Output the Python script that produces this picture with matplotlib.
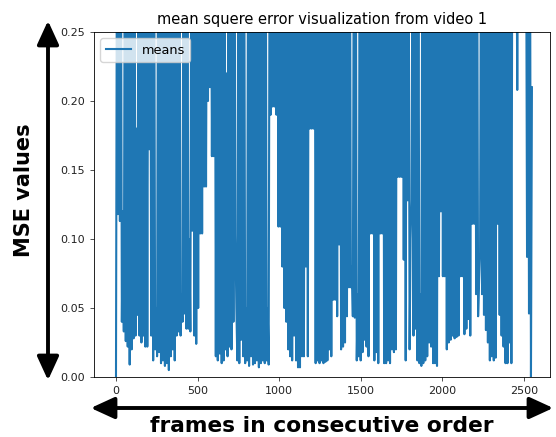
import numpy as np
import matplotlib
matplotlib.use("Agg")
import matplotlib.pyplot as plt
from matplotlib.patches import FancyArrowPatch

# local minima of the MSE curve, one every 12 frames
troughs_a = [0.000, 0.118, 0.113, 0.040, 0.033, 0.026, 0.022, 0.009, 0.020, 0.028,
             0.030, 0.045, 0.030, 0.025, 0.030, 0.022, 0.022, 0.165, 0.030, 0.012,
             0.020, 0.015, 0.018, 0.010, 0.012, 0.008, 0.010, 0.005, 0.015, 0.020,
             0.012, 0.030, 0.033, 0.030, 0.040, 0.046, 0.035, 0.035, 0.033, 0.106,
             0.030, 0.024, 0.050]
troughs_b = [0.104, 0.104, 0.138, 0.138, 0.200, 0.210, 0.160, 0.160, 0.015, 0.012,
             0.017, 0.010, 0.012, 0.020, 0.015, 0.022, 0.020, 0.040, 0.103, 0.012,
             0.010, 0.027, 0.015, 0.010, 0.012, 0.008, 0.015, 0.009, 0.010, 0.012,
             0.007, 0.010, 0.012, 0.010, 0.012, 0.009, 0.190, 0.196, 0.196, 0.190,
             0.109, 0.109, 0.080]
troughs_c = [0.050, 0.040, 0.020, 0.015, 0.012, 0.030, 0.012, 0.007, 0.007, 0.015,
             0.015, 0.080, 0.015, 0.180, 0.180, 0.180, 0.010, 0.012, 0.010, 0.012,
             0.010, 0.011, 0.012, 0.020, 0.015, 0.056, 0.056, 0.044, 0.096, 0.020,
             0.022, 0.025, 0.044, 0.065, 0.065, 0.044, 0.043, 0.012, 0.015, 0.012,
             0.018, 0.027, 0.022]
troughs_d = [0.015, 0.104, 0.104, 0.012, 0.018, 0.010, 0.104, 0.104, 0.010, 0.010,
             0.012, 0.010, 0.020, 0.018, 0.020, 0.145, 0.145, 0.145, 0.085, 0.012,
             0.128, 0.020, 0.128, 0.030, 0.035, 0.012, 0.010, 0.008, 0.010, 0.012,
             0.015, 0.025, 0.022, 0.010, 0.010, 0.008, 0.073, 0.120, 0.073, 0.073,
             0.020, 0.025, 0.027]
troughs_e = [0.030, 0.028, 0.029, 0.030, 0.073, 0.073, 0.031, 0.035, 0.042, 0.030,
             0.111, 0.111, 0.060, 0.044, 0.090, 0.060, 0.045, 0.034, 0.025, 0.012,
             0.015, 0.012, 0.014, 0.111, 0.045, 0.030, 0.022, 0.010, 0.010, 0.025,
             0.010, 0.300, 0.300, 0.208, 0.300, 0.300, 0.300, 0.300, 0.087, 0.046,
             0.000]
peak_value = 0.35   # between dips the curve leaves the visible range
# the few peaks that stay inside the plot (thin white lines from the top)
low_peaks = {3: 0.12, 10: 0.18, 20: 0.05, 33: 0.06, 37: 0.10, 56: 0.22, 61: 0.05,
             66: 0.05, 77: 0.05, 120: 0.08, 123: 0.06, 150: 0.10, 155: 0.06, 185: 0.07}
last_value = 0.21
frame_step = 6

troughs = np.array(troughs_a + troughs_b + troughs_c + troughs_d + troughs_e)
peaks = np.full(len(troughs), peak_value)
for k, v in low_peaks.items():
    peaks[k] = v
peaks[-1] = last_value
means = np.empty(2 * len(troughs))
means[0::2] = troughs
means[1::2] = peaks
frames = np.arange(len(means)) * frame_step

fig = plt.figure(figsize=(5.56, 4.37), dpi=100)
ax = fig.add_axes([0.169, 0.1373, 0.820, 0.7895])
ax.plot(frames, means, color="#1f77b4", lw=1.5, label="means")
ax.set_ylim(0, 0.25)
ax.set_xlim(-135, 2660)
ax.set_title("mean squere error visualization from video 1", fontsize=10.5, pad=6)
ax.tick_params(labelsize=8, length=2.8, width=0.6, colors="#333333", labelcolor="#222222")
for s in ax.spines.values():
    s.set_linewidth(0.6)
ax.legend(loc="upper left", fontsize=9.3)

# big arrows round the axes
def px(x, y):
    return (x / 556.0, 1 - y / 437.0)

style = "<|-|>,head_length=1.2,head_width=0.55"
fig.add_artist(FancyArrowPatch(px(48, 18), px(48, 383), transform=fig.transFigure,
                               arrowstyle=style, mutation_scale=12, color="black", lw=2.8))
fig.add_artist(FancyArrowPatch(px(88, 408), px(556, 408), transform=fig.transFigure,
                               arrowstyle=style, mutation_scale=12, color="black", lw=2.8))

fig.text(24 / 556, 1 - 190 / 437, "MSE values", rotation=90, fontsize=15, fontweight="bold",
         ha="center", va="center")
fig.text(322 / 556, 1 - 426 / 437, "frames in consecutive order", fontsize=15.7,
         fontweight="bold", ha="center", va="center")

plt.savefig("out.png", dpi=100)
